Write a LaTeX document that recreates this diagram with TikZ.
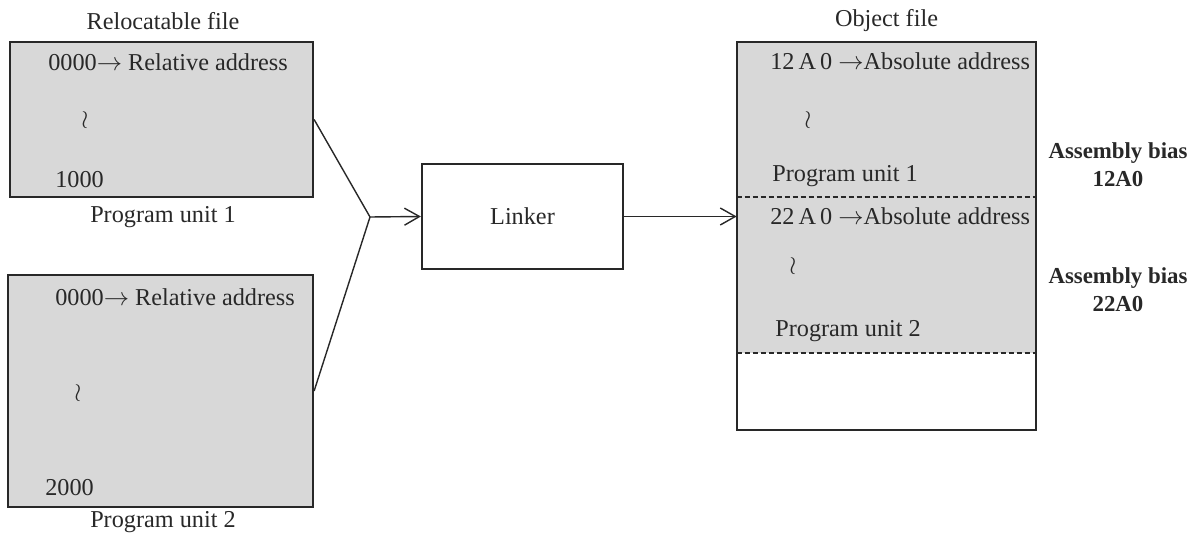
\documentclass[tikz,border=0pt]{standalone}
\usepackage{fontspec}
\setmainfont{Liberation Serif}
\usetikzlibrary{arrows.meta}
\definecolor{unitgray}{RGB}{216,216,216}
\definecolor{inkgray}{RGB}{40,40,40}
\begin{document}
\begin{tikzpicture}[x=0.02cm,y=-0.02cm,
  every node/.style={font=\fontsize{13.8pt}{16pt}\selectfont, text=inkgray, inner sep=0pt},
  filebox/.style={draw=inkgray, line width=1.3pt, fill=unitgray},
  linkbox/.style={draw=inkgray, line width=1.3pt, fill=white},
  biaslabel/.style={font=\fontsize{13pt}{16pt}\selectfont\bfseries, align=center},
  gap/.style={font=\fontsize{13.8pt}{16pt}\selectfont},
  wire/.style={draw=inkgray, line width=0.8pt},
  flow/.style={wire, -{Straight Barb[length=0.3cm,width=0.34cm,line width=0.8pt]}},
  divider/.style={draw=inkgray, line width=0.7pt, dash pattern=on 1mm off 0.6mm}]
\useasboundingbox (0,0) rectangle (1201,537);

% relocatable program units
\node[filebox, minimum width=6.06cm, minimum height=3.1cm] (rel1) at (161.5,119.5) {};
\node[filebox, minimum width=6.1cm, minimum height=4.64cm] (rel2) at (160.5,391) {};
\node (reltitle) at (163,21) {Relocatable file};
\node (pu1) at (163,217) {Program unit 1};
\node (pu2) at (163,522) {Program unit 2};

\node[anchor=west] (r1a) at (48,62) {0000$\rightarrow$ Relative address};
\node[gap] (r1s) at (85,120) {$\wr$};
\node[anchor=west] (r1e) at (55,180) {1000};

\node[anchor=west] (r2a) at (55,297) {0000$\rightarrow$ Relative address};
\node[gap] (r2s) at (78,393) {$\wr$};
\node[anchor=west] (r2e) at (45,488) {2000};

% linker
\node[linkbox, minimum width=4.02cm, minimum height=2.1cm] (linker) at (522.5,216.5) {Linker};
\coordinate (j) at (370,217);

% object file
\node[draw=none, minimum width=5.98cm, minimum height=7.76cm] (obj) at (886.5,236) {};
\coordinate (cut1) at (737,197);
\coordinate (cut2) at (737,353);
\fill[unitgray] (obj.north west) rectangle (obj.east |- cut2);
\draw[divider] (obj.west |- cut1) -- (obj.east |- cut1);
\draw[divider] (obj.west |- cut2) -- (obj.east |- cut2);
\draw[inkgray, line width=1.3pt] (obj.north west) rectangle (obj.south east);
\node (objtitle) at (886.5,21) {Object file};

\node[anchor=west] (o1a) at (770,61) {12\,A\,0 $\rightarrow$Absolute address};
\node[gap] (o1s) at (808,120) {$\wr$};
\node[anchor=west] (o1e) at (772,176) {Program unit 1};
\node[anchor=west] (o2a) at (770,216) {22\,A\,0 $\rightarrow$Absolute address};
\node[gap] (o2s) at (793,266) {$\wr$};
\node[anchor=west] (o2e) at (775,331) {Program unit 2};

\node[biaslabel] (bias1) at (1118,165) {Assembly bias\\12A0};
\node[biaslabel] (bias2) at (1118,290) {Assembly bias\\22A0};

% connectors
\draw[wire] (rel1.east) -- (j);
\draw[wire] (rel2.east) -- (j);
\draw[flow] (j) -- (linker.west);
\draw[flow] (linker.east) -- (obj.west |- linker.east);
\end{tikzpicture}
\end{document}
